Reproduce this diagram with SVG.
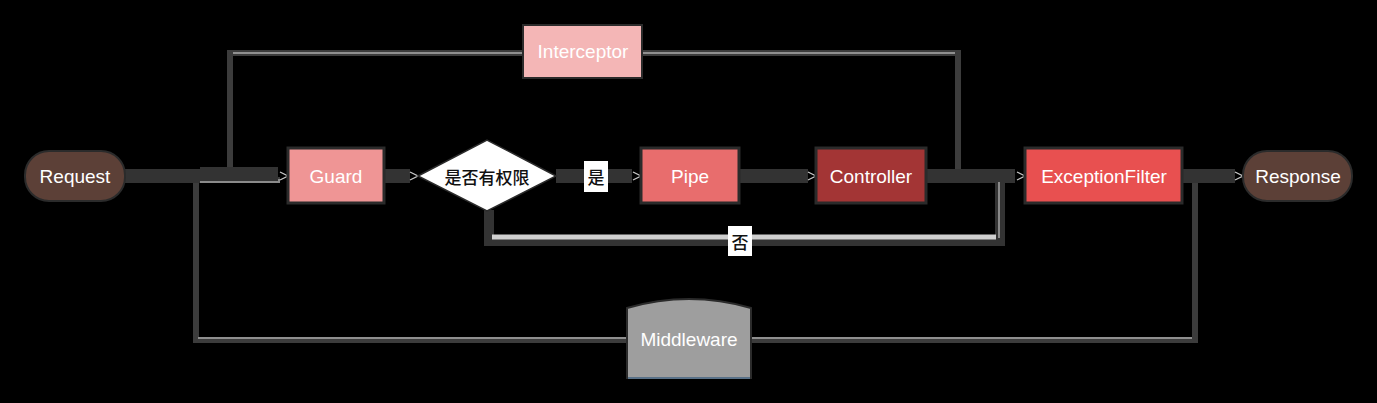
<svg xmlns="http://www.w3.org/2000/svg" width="1377" height="403" viewBox="0 0 1377 403">
<style>
.lbl{font-family:"Liberation Sans","Noto Sans CJK SC",sans-serif;font-size:19px;fill:#fff;text-anchor:middle;dominant-baseline:central}
.cjk{font-family:"Noto Sans CJK SC","Liberation Sans",sans-serif;font-size:17px;fill:#111;text-anchor:middle;dominant-baseline:central;font-weight:500}
.main{fill:none;stroke:#333;stroke-width:14}
.loop{fill:none;stroke:#3c3c3c;stroke-width:6}
.loopin{fill:none;stroke:#aaa;stroke-width:1.5}
.box{stroke:#2b2b2b;stroke-width:3}
</style>
<defs>
<marker id="ah" viewBox="0 0 10 10" refX="9" refY="5" markerWidth="10" markerHeight="10" markerUnits="userSpaceOnUse" orient="auto">
<path d="M1,1 L9,5 L1,9" fill="none" stroke="#c8c8c8" stroke-width="1.3"/>
</marker>
</defs>
<rect width="1377" height="403" fill="#000"/>
<g id="connectors">
<path class="loop" d="M230,176 V53 H523 M643,53 H958 V176"/>
<path class="loopin" d="M233,53 H523 M643,53 H955"/>
<path class="loop" d="M1195,176 V340 H751 M627,340 H196 V180 H280"/>
<path class="loopin" d="M1192,338 H751 M627,338 H198"/>
<path fill="none" stroke="#8a8a8a" stroke-width="4" d="M198,181 H280"/>
<path class="main" d="M124,176 H200"/>
<path class="main" d="M200,174 H278"/>
<path class="main" d="M384,176 H410"/>
<path class="main" d="M556,176 H632"/>
<path class="main" d="M739,176 H808"/>
<path class="main" d="M926,176 H1015"/>
<path class="main" d="M1182,176 H1235"/>
<path fill="none" stroke="#333" stroke-width="10" d="M489,210 V241 H1000 V180"/>
<path fill="none" stroke="#cfcfcf" stroke-width="5" d="M492,237 H996"/>
<path fill="none" stroke="#888" stroke-width="2" d="M999,238 V182"/>
<line x1="270" y1="176" x2="288" y2="176" stroke="none" marker-end="url(#ah)"/>
<line x1="400" y1="176" x2="418" y2="176" stroke="none" marker-end="url(#ah)"/>
<line x1="623" y1="176" x2="641" y2="176" stroke="none" marker-end="url(#ah)"/>
<line x1="798" y1="176" x2="816" y2="176" stroke="none" marker-end="url(#ah)"/>
<line x1="1007" y1="176" x2="1025" y2="176" stroke="none" marker-end="url(#ah)"/>
<line x1="1225" y1="176" x2="1243" y2="176" stroke="none" marker-end="url(#ah)"/>
<rect x="584" y="161" width="24" height="31" fill="#fff"/>
<text class="cjk" x="596" y="176">是</text>
<rect x="728" y="226" width="24" height="30" fill="#fff"/>
<text class="cjk" x="740" y="241">否</text>
</g>
<g id="request">
<rect x="25" y="151" width="100" height="50" rx="24" fill="#5c4037" stroke="#2b2b2b" stroke-width="2"/>
<text class="lbl" x="75" y="176">Request</text>
</g>
<g id="guard">
<rect class="box" x="288" y="148" width="96" height="55" fill="#ef9595"/>
<text class="lbl" x="336" y="176">Guard</text>
</g>
<g id="decision">
<polygon points="418,176 487,140 556,176 487,211" fill="#fff" stroke="#2b2b2b" stroke-width="1.5"/>
<text class="cjk" x="487" y="176">是否有权限</text>
</g>
<g id="pipe">
<rect class="box" x="641" y="148" width="98" height="55" fill="#e86d6d"/>
<text class="lbl" x="690" y="176">Pipe</text>
</g>
<g id="controller">
<rect class="box" x="816" y="148" width="110" height="55" fill="#a33535"/>
<text class="lbl" x="871" y="176">Controller</text>
</g>
<g id="exceptionfilter">
<rect class="box" x="1025" y="148" width="157" height="55" fill="#e85050"/>
<text class="lbl" x="1104" y="176">ExceptionFilter</text>
</g>
<g id="response">
<rect x="1243" y="151" width="109" height="50" rx="24" fill="#5c4037" stroke="#2b2b2b" stroke-width="2"/>
<text class="lbl" x="1298" y="176">Response</text>
</g>
<g id="interceptor">
<rect x="523" y="25" width="119" height="53" fill="#f4b6b6" stroke="#2b2b2b" stroke-width="2"/>
<text class="lbl" x="583" y="51">Interceptor</text>
</g>
<g id="middleware">
<path d="M627,308 Q689,290 751,308 V378 H627 Z" fill="#9e9e9e" stroke="#2b2b2b" stroke-width="2"/>
<line x1="628" y1="378" x2="750" y2="378" stroke="#6a8aa8" stroke-width="1.5"/>
<text class="lbl" x="689" y="339">Middleware</text>
</g>
</svg>
